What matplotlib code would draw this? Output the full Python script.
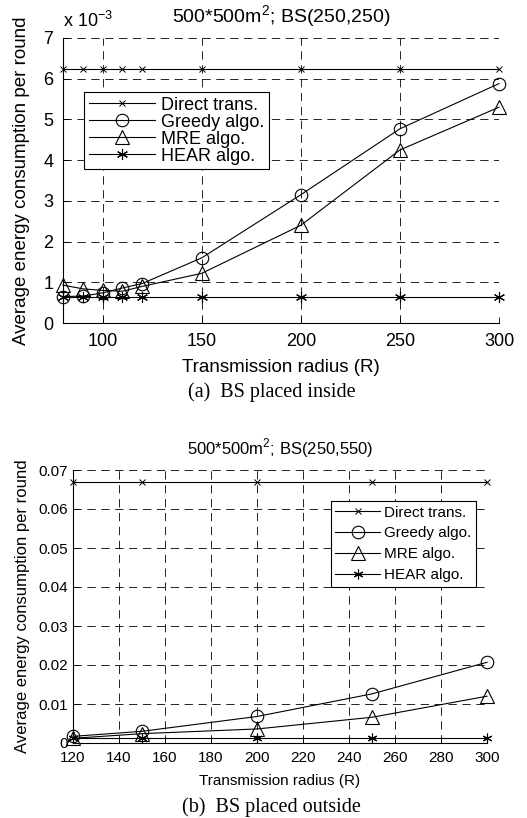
import matplotlib
matplotlib.use("Agg")
import matplotlib.pyplot as plt
from matplotlib.ticker import FuncFormatter, MultipleLocator

plt.rcParams['font.family'] = ['Liberation Sans', 'DejaVu Sans']
plt.rcParams['mathtext.fontset'] = 'custom'
plt.rcParams['mathtext.rm'] = 'Liberation Sans'
plt.rcParams['lines.scale_dashes'] = False

# ---- data (a): BS placed inside ----
radius_a = [80, 90, 100, 110, 120, 150, 200, 250, 300]
direct_a = [6.25e-3, 6.25e-3, 6.25e-3, 6.25e-3, 6.25e-3, 6.25e-3, 6.25e-3, 6.25e-3, 6.25e-3]
greedy_a = [0.65e-3, 0.66e-3, 0.74e-3, 0.86e-3, 0.97e-3, 1.60e-3, 3.15e-3, 4.77e-3, 5.88e-3]
mre_a = [0.93e-3, 0.84e-3, 0.80e-3, 0.78e-3, 0.90e-3, 1.22e-3, 2.40e-3, 4.25e-3, 5.30e-3]
hear_a = [0.64e-3, 0.64e-3, 0.64e-3, 0.64e-3, 0.64e-3, 0.64e-3, 0.64e-3, 0.64e-3, 0.64e-3]

# ---- data (b): BS placed outside ----
radius_b = [120, 150, 200, 250, 300]
direct_b = [0.067, 0.067, 0.067, 0.067, 0.067]
greedy_b = [0.0017, 0.0030, 0.0068, 0.0126, 0.0207]
mre_b = [0.0012, 0.0024, 0.0036, 0.0066, 0.0120]
hear_b = [0.0013, 0.0013, 0.0013, 0.0013, 0.0013]

series_names = ['Direct trans.', 'Greedy algo.', 'MRE algo.', 'HEAR algo.']
ast = (6, 2, 0)

W, H = 527, 818
fig = plt.figure(figsize=(W / 100, H / 100), dpi=100)


def box(l, t, r, b):
    return [l / W, (H - b) / H, (r - l) / W, (b - t) / H]


def style_axes(ax, fs, xpad, ypad):
    ax.spines['top'].set_visible(False)
    ax.spines['right'].set_visible(False)
    for s in ('left', 'bottom'):
        ax.spines[s].set_linewidth(0.8)
    ax.grid(True, color='black', linestyle=(0, (6, 4)), linewidth=0.6)
    ax.set_axisbelow(True)
    ax.tick_params(direction='in', length=4, width=0.6, labelsize=fs)
    ax.tick_params(axis='x', pad=xpad)
    ax.tick_params(axis='y', pad=ypad)


def draw_series(ax, x, d, g, m, h, ast_ms):
    lw = 0.8
    ax.plot(x, d, color='black', lw=lw, marker='x', ms=4.5, mew=0.7, label=series_names[0], clip_on=False)
    ax.plot(x, g, color='black', lw=lw, marker='o', ms=9, mfc='none', mew=0.8, label=series_names[1], clip_on=False)
    ax.plot(x, m, color='black', lw=lw, marker='^', ms=10, mfc='none', mew=0.8, label=series_names[2], clip_on=False)
    ax.plot(x, h, color='black', lw=lw, marker=ast, ms=ast_ms, mew=0.8, label=series_names[3], clip_on=False)


# ================= (a) =================
ax1 = fig.add_axes(box(63, 38, 499, 323))
draw_series(ax1, radius_a, direct_a, greedy_a, mre_a, hear_a, 8)
ax1.set_xlim(80, 300)
ax1.set_ylim(0, 7e-3)
ax1.set_xticks([100, 150, 200, 250, 300])
ax1.yaxis.set_major_locator(MultipleLocator(1e-3))
ax1.yaxis.set_major_formatter(FuncFormatter(lambda v, p: '%d' % round(v * 1e3)))
style_axes(ax1, 13, 7, 7)
ax1.set_xlabel('Transmission radius (R)', fontsize=13.5, labelpad=7)
ax1.set_ylabel('Average energy consumption per round', fontsize=13.5)
ax1.yaxis.set_label_coords((30 - 63) / 436, 0.5)
ax1.set_title('500*500m$^2$; BS(250,250)', fontsize=14, pad=11)
ax1.text(0.0, 1.04, 'x 10$^{-3}$', transform=ax1.transAxes, fontsize=13, ha='left', va='baseline')
leg1 = ax1.legend(loc='upper left', bbox_to_anchor=((84 - 63) / 436, (323 - 92) / 285),
                  borderaxespad=0, fontsize=13, handlelength=3.7, labelspacing=0.0,
                  borderpad=0.25, handletextpad=0.3, fancybox=False, framealpha=1,
                  edgecolor='black')
leg1.get_frame().set_linewidth(0.8)

fig.text(272 / W, 1 - 392 / H, '(a)  BS placed inside', family='Liberation Serif',
         fontsize=14.5, ha='center', va='center')

# ================= (b) =================
ax2 = fig.add_axes(box(73, 470, 487, 743))
draw_series(ax2, radius_b, direct_b, greedy_b, mre_b, hear_b, 7)
ax2.set_xlim(120, 300)
ax2.set_ylim(0, 0.07)
ax2.xaxis.set_major_locator(MultipleLocator(20))
ax2.yaxis.set_major_locator(MultipleLocator(0.01))
ax2.yaxis.set_major_formatter(FuncFormatter(lambda v, p: '0' if abs(v) < 1e-9 else '%.2f' % v))
style_axes(ax2, 11, 6, 3.5)
ax2.set_xlabel('Transmission radius (R)', fontsize=11, labelpad=6)
ax2.set_ylabel('Average energy consumption per round', fontsize=12)
ax2.yaxis.set_label_coords((30 - 73) / 414, 0.5)
ax2.set_title('500*500m$^2$; BS(250,550)', fontsize=12, pad=11)
leg2 = ax2.legend(loc='upper right', bbox_to_anchor=((476 - 73) / 414, (743 - 501) / 273),
                  borderaxespad=0, fontsize=11, handlelength=2.9, labelspacing=0.45,
                  borderpad=0.3, handletextpad=0.3, fancybox=False, framealpha=1,
                  edgecolor='black')
leg2.get_frame().set_linewidth(0.8)

fig.text(271 / W, 1 - 807 / H, '(b)  BS placed outside', family='Liberation Serif',
         fontsize=14.5, ha='center', va='center')

fig.savefig('out.png', dpi=100)
